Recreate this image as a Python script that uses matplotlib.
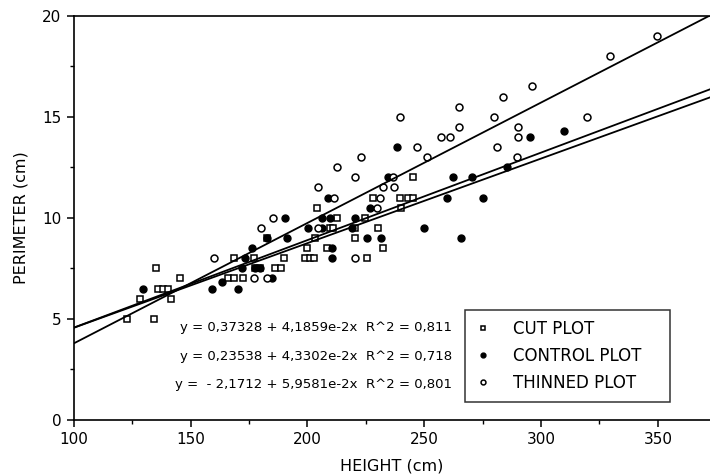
import matplotlib

matplotlib.use("Agg")

import matplotlib.pyplot as plt
from matplotlib.ticker import MultipleLocator
import numpy as np

# data (height cm, perimeter cm)
cut_x = [122.7, 134.2, 128.3, 141.5, 136.0, 138.1, 140.2, 135.1, 145.4, 165.9,
         168.5, 172.3, 168.5, 177.1, 177.5, 179.6, 186.0, 188.6, 189.9, 182.6,
         198.9, 201.0, 202.7, 199.7, 208.3, 203.2, 204.0, 209.6, 210.9, 212.6,
         220.3, 220.3, 225.4, 224.6, 230.1, 232.3, 228.0, 239.6, 243.0, 245.1,
         240.0, 245.1]
cut_y = [5.0, 5.0, 6.0, 6.0, 6.5, 6.5, 6.5, 7.5, 7.0, 7.0,
         7.0, 7.0, 8.0, 8.0, 7.5, 7.5, 7.5, 7.5, 8.0, 9.0,
         8.0, 8.0, 8.0, 8.5, 8.5, 9.0, 10.5, 9.5, 9.5, 10.0,
         9.5, 9.0, 8.0, 10.0, 9.5, 8.5, 11.0, 11.0, 11.0, 11.0,
         10.5, 12.0]

control_x = [129.5, 159.1, 170.2, 163.4, 171.9, 173.2, 176.2, 177.5, 179.6, 184.8,
             182.6, 191.2, 190.3, 200.2, 206.2, 210.4, 210.4, 206.2, 209.6, 208.7,
             219.0, 220.3, 225.4, 231.4, 226.7, 234.4, 238.3, 249.8, 259.7, 262.2,
             265.7, 270.4, 275.1, 285.4, 295.2, 309.8]
control_y = [6.5, 6.5, 6.5, 6.8, 7.5, 8.0, 8.5, 7.5, 7.5, 7.0,
             9.0, 9.0, 10.0, 9.5, 9.5, 8.5, 8.0, 10.0, 10.0, 11.0,
             9.5, 10.0, 9.0, 9.0, 10.5, 12.0, 13.5, 9.5, 11.0, 12.0,
             9.0, 12.0, 11.0, 12.5, 14.0, 14.3]

thinned_x = [159.9, 177.1, 182.6, 180.1, 185.2, 204.5, 204.5, 211.3, 212.6, 220.3,
             220.3, 222.9, 229.7, 231.0, 232.3, 236.6, 237.0, 239.6, 246.8, 251.1,
             257.1, 261.0, 264.8, 264.8, 279.8, 281.1, 283.6, 290.1, 290.1, 289.6,
             296.1, 319.6, 329.5, 349.6]
thinned_y = [8.0, 7.0, 7.0, 9.5, 10.0, 9.5, 11.5, 11.0, 12.5, 12.0,
             8.0, 13.0, 10.5, 11.0, 11.5, 12.0, 11.5, 15.0, 13.5, 13.0,
             14.0, 14.0, 15.5, 14.5, 15.0, 13.5, 16.0, 14.5, 14.0, 13.0,
             16.5, 15.0, 18.0, 19.0]

# regression coefficients printed on the chart: y = a + b*x
intercepts = [0.37328, 0.23538, -2.1712]
slopes = [4.1859e-2, 4.3302e-2, 5.9581e-2]
equations = [
    "y = 0,37328 + 4,1859e-2x  R^2 = 0,811",
    "y = 0,23538 + 4,3302e-2x  R^2 = 0,718",
    "y =  - 2,1712 + 5,9581e-2x  R^2 = 0,801",
]
labels = ["CUT PLOT", "CONTROL PLOT", "THINNED PLOT"]

fig = plt.figure(figsize=(7.1, 4.75), dpi=100)
ax = fig.add_axes([0.104, 0.116, 0.896, 0.851])

ms = 4.5
ax.plot(cut_x, cut_y, "s", ms=ms, mfc="white", mec="black", mew=1.1, label=labels[0])
ax.plot(control_x, control_y, "o", ms=ms + 0.5, mfc="black", mec="black", label=labels[1])
ax.plot(thinned_x, thinned_y, "o", ms=ms + 0.5, mfc="white", mec="black", mew=1.1,
        label=labels[2])

xs = np.array([100, 380])
for a, b in zip(intercepts, slopes):
    ax.plot(xs, a + b * xs, color="black", lw=1.3)

ax.set_xlim(100, 372.3)
ax.set_ylim(0, 20)
ax.xaxis.set_major_locator(MultipleLocator(50))
ax.xaxis.set_minor_locator(MultipleLocator(25))
ax.yaxis.set_major_locator(MultipleLocator(5))
ax.yaxis.set_minor_locator(MultipleLocator(2.5))
ax.tick_params(which="major", direction="out", length=5, width=1.1, labelsize=11, pad=4)
ax.tick_params(which="minor", direction="out", length=3, width=1)
ax.spines["right"].set_visible(False)
for s in ["left", "bottom", "top"]:
    ax.spines[s].set_linewidth(1.2)

ax.set_xlabel("HEIGHT (cm)", fontsize=11.5, labelpad=8)
ax.set_ylabel("PERIMETER (cm)", fontsize=11.5, labelpad=10)

for i, eq in enumerate(equations):
    ax.text(0.594, 0.228 - i * 0.07, eq, transform=ax.transAxes,
            ha="right", va="center", fontsize=9.5)

leg = ax.legend(loc="upper left", bbox_to_anchor=(0.615, 0.042, 0.322, 0.230),
                mode="expand", borderaxespad=0, fontsize=12,
                frameon=True, fancybox=False, edgecolor="black", handlelength=1.0,
                handletextpad=1.3, borderpad=0.6, labelspacing=0.55, markerscale=0.7)
leg.get_frame().set_linewidth(1.1)

fig.savefig("out.png", dpi=100)
plt.close(fig)
